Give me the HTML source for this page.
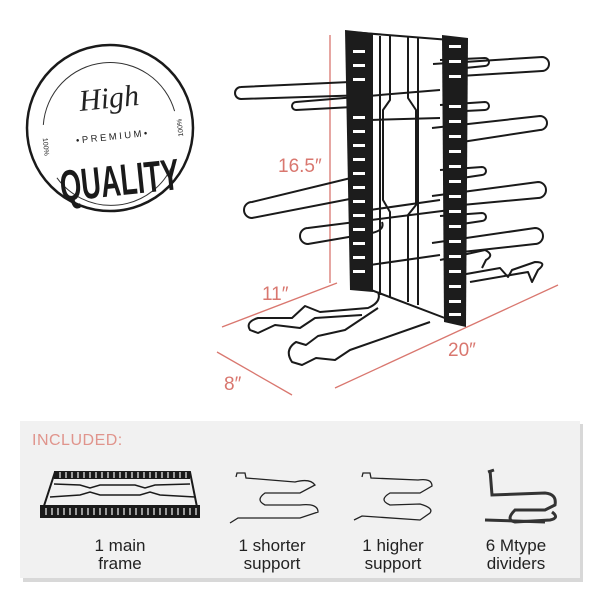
<!DOCTYPE html>
<html><head><style>
html,body{margin:0;padding:0;background:#fff;}
body{width:600px;height:600px;overflow:hidden;position:relative;font-family:"Liberation Sans",sans-serif;}
svg{position:absolute;left:0;top:0;}
</style></head><body>
<svg width="600" height="600" viewBox="0 0 600 600">
<!-- badge -->
<circle cx="110" cy="128" r="83" fill="#fff" stroke="#1a1a1a" stroke-width="2.5"/>
<g transform="rotate(-6 110 128)">
<path d="M44 118 A67 67 0 0 1 176 118" fill="none" stroke="#333" stroke-width="1"/>
<path d="M52 172 A67 67 0 0 0 168 172" fill="none" stroke="#333" stroke-width="1"/>
<text x="112" y="108" font-family="Liberation Serif,serif" font-style="italic" font-size="30" text-anchor="middle" fill="#222">High</text>
<text x="112" y="140" font-size="9.5" letter-spacing="2.5" text-anchor="middle" fill="#222">•PREMIUM•</text>
<g transform="translate(114,196) scale(0.62,1)"><text x="0" y="0" font-size="44" font-weight="bold" text-anchor="middle" fill="#1a1a1a">QUALITY</text></g>
<text x="0" y="0" font-size="7" fill="#222" text-anchor="middle" transform="translate(42,140) rotate(90)">100%</text>
<text x="0" y="0" font-size="7" fill="#222" text-anchor="middle" transform="translate(182,135) rotate(-90)">100%</text>
</g>

<!-- dimension lines -->
<g stroke="#d9776f" stroke-width="1.3" fill="none">
<line x1="330" y1="35" x2="330" y2="283"/>
<line x1="337" y1="283" x2="222" y2="327"/>
<line x1="217" y1="352" x2="292" y2="395"/>
<line x1="335" y1="388" x2="558" y2="285"/>
</g>
<g fill="#d9776f" font-size="19">
<text x="278" y="172">16.5″</text>
<text x="262" y="300">11″</text>
<text x="448" y="356">20″</text>
<text x="224" y="390">8″</text>
</g>

<!-- rack -->
<g stroke="#1a1a1a" stroke-width="2" fill="none" stroke-linejoin="round">
<line x1="350" y1="32" x2="450" y2="40"/>
<line x1="380" y1="36" x2="380" y2="295"/>
<line x1="418" y1="38" x2="418" y2="305"/>
<line x1="358" y1="285" x2="450" y2="320"/>
<path d="M390 36 L390 100 L383 110 L383 200 L390 212 L390 298"/>
<path d="M408 37 L408 98 L416 110 L416 205 L408 215 L408 302"/>
<line x1="370" y1="120" x2="440" y2="118"/>
<line x1="370" y1="210" x2="440" y2="200"/>
<line x1="370" y1="265" x2="440" y2="255"/>
<!-- left arms (hairpins) -->
<path d="M372 81 L241 87 A5 5 0 0 0 241 99 L368 95"/>
<path d="M440 90 L296 102 A4 4 0 0 0 296 110 L372 106"/>
<path d="M355 177 L252 202 A8 8 0 0 0 252 218 L360 197"/>
<path d="M450 210 L308 228 A8 8 0 0 0 308 244 L372 233 Q385 230 382 222"/>
<!-- right arms -->
<path d="M433 64 L542 57 A7 7 0 0 1 542 71 L460 76"/>
<path d="M440 60 L485 58 A4 4 0 0 1 485 66 L445 70"/>
<path d="M440 105 L485 102 A4 4 0 0 1 485 110 L445 112"/>
<path d="M432 128 L540 116 A7 7 0 0 1 540 130 L462 142"/>
<path d="M440 170 L482 167 A4 4 0 0 1 482 175 L462 178"/>
<path d="M432 196 L538 182 A8 8 0 0 1 538 198 L462 205"/>
<path d="M440 216 L482 213 A4 4 0 0 1 482 221 L462 224"/>
<path d="M432 243 L535 228 A8 8 0 0 1 535 244 L462 252"/>
<path d="M440 260 L485 250 Q495 255 486 260 L482 268"/>
<path d="M455 276 L500 268 L508 277 L512 270 L535 262 Q548 262 538 270 L532 282 L528 272 L470 282"/>
<!-- base -->
<path d="M378 292 Q382 302 368 308 L320 312 L305 306 L292 318 L258 318 Q245 322 250 330 L258 333 L275 325 L300 328 L315 318 L362 315"/>
<path d="M378 308 L345 330 L318 336 L306 345 L296 342 Q284 350 292 362 L302 365 L316 358 L335 360 L350 350 L430 322"/>
</g>
<!-- side panels -->
<g fill="#1c1c1c">
<polygon points="345,30 373,33 373,292 350,290"/>
<polygon points="442,35 468,38 466,327 444,322"/>
</g>
<g fill="#fff">
<rect x="353" y="50" width="12" height="3"/><rect x="353" y="64" width="12" height="3"/><rect x="353" y="78" width="12" height="3"/>
<rect x="353" y="116" width="12" height="3"/><rect x="353" y="130" width="12" height="3"/><rect x="353" y="144" width="12" height="3"/>
<rect x="353" y="158" width="12" height="3"/><rect x="353" y="172" width="12" height="3"/><rect x="353" y="186" width="12" height="3"/>
<rect x="353" y="200" width="12" height="3"/><rect x="353" y="214" width="12" height="3"/><rect x="353" y="228" width="12" height="3"/>
<rect x="353" y="242" width="12" height="3"/><rect x="353" y="256" width="12" height="3"/><rect x="353" y="270" width="12" height="3"/>
<rect x="449" y="45" width="12" height="3"/><rect x="449" y="60" width="12" height="3"/><rect x="449" y="75" width="12" height="3"/>
<rect x="449" y="105" width="12" height="3"/><rect x="449" y="120" width="12" height="3"/><rect x="449" y="135" width="12" height="3"/>
<rect x="449" y="150" width="12" height="3"/><rect x="449" y="165" width="12" height="3"/><rect x="449" y="180" width="12" height="3"/>
<rect x="449" y="195" width="12" height="3"/><rect x="449" y="210" width="12" height="3"/><rect x="449" y="225" width="12" height="3"/>
<rect x="449" y="240" width="12" height="3"/><rect x="449" y="255" width="12" height="3"/><rect x="449" y="270" width="12" height="3"/>
<rect x="449" y="285" width="12" height="3"/><rect x="449" y="300" width="12" height="3"/><rect x="449" y="313" width="12" height="3"/>
</g>

<!-- bottom panel -->
<rect x="23" y="424" width="560" height="158" fill="#d8d8d8"/>
<rect x="20" y="421" width="560" height="157" fill="#f1f1f1"/>
<text x="32" y="445" font-size="16" fill="#e0948c" letter-spacing="0.5">INCLUDED:</text>
<g>
<polygon points="55,472 190,472 198,512 42,512" fill="none" stroke="#1a1a1a" stroke-width="2"/>
<rect x="54" y="471" width="136" height="8" fill="#1a1a1a"/>
<rect x="40" y="505" width="160" height="13" fill="#1a1a1a"/>
<g stroke="#f1f1f1" stroke-width="1.2">
<path d="M60 472v6M66 472v6M72 472v6M78 472v6M84 472v6M90 472v6M96 472v6M102 472v6M108 472v6M114 472v6M120 472v6M126 472v6M132 472v6M138 472v6M144 472v6M150 472v6M156 472v6M162 472v6M168 472v6M174 472v6M180 472v6M186 472v6"/>
<path d="M46 508v7M52 508v7M58 508v7M64 508v7M70 508v7M76 508v7M82 508v7M88 508v7M94 508v7M100 508v7M106 508v7M112 508v7M118 508v7M124 508v7M130 508v7M136 508v7M142 508v7M148 508v7M154 508v7M160 508v7M166 508v7M172 508v7M178 508v7M184 508v7M190 508v7M196 508v7"/>
</g>
<path d="M50 497 L80 495 L90 492 L100 495 L140 495 L150 492 L160 495 L195 497" stroke="#1a1a1a" stroke-width="1.5" fill="none"/>
<path d="M54 484 L80 485 L90 488 L100 485 L135 485 L145 488 L155 485 L190 484" stroke="#1a1a1a" stroke-width="1.5" fill="none"/>
</g>
<g stroke="#222" stroke-width="1.3" fill="none">
<path d="M236 477 L237 473 L245 473 L246 478 L295 482 Q310 478 315 485 L300 493 L265 493 Q255 500 265 505 L300 505 Q318 503 318 512 L300 518 L238 518 L230 523"/>
<path d="M362 477 L363 473 L370 473 L371 478 L418 480 Q432 478 432 486 L420 493 L390 493 Q378 500 390 505 L420 504 Q434 508 430 513 L420 520 L362 516 L354 520"/>
</g>
<g stroke="#333" stroke-width="3" fill="none">
<path d="M490 470 L492 495 L545 493 Q557 494 555 505 L545 510 L515 510 Q505 520 515 522 L550 520 Q560 518 552 512"/>
<path d="M488 472 L494 470 M485 520 L545 522"/>
</g>
<g font-size="17" fill="#222" text-anchor="middle">
<text x="120" y="551">1 main</text><text x="120" y="569">frame</text>
<text x="272" y="551">1 shorter</text><text x="272" y="569">support</text>
<text x="393" y="551">1 higher</text><text x="393" y="569">support</text>
<text x="516" y="551">6 Mtype</text><text x="516" y="569">dividers</text>
</g>
</svg>
</body></html>
